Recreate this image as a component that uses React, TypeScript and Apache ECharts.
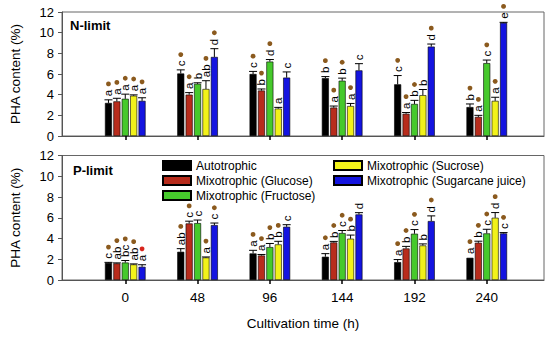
import React, { useEffect, useRef } from "react";
import * as echarts from "echarts";

const times = [0, 48, 96, 144, 192, 240];
const tickLabels = ["0", "48", "96", "144", "192", "240"];
const seriesNames = [
  "Autotrophic",
  "Mixotrophic (Glucose)",
  "Mixotrophic (Fructose)",
  "Mixotrophic (Sucrose)",
  "Mixotrophic (Sugarcane juice)",
];
const colors = ["#000000", "#b82c1c", "#46c92c", "#f2f21a", "#1414e0"];

// N-limit values
const nAuto = [3.2, 6.05, 6.0, 5.6, 5.0, 2.8];
const nGlucose = [3.35, 4.0, 4.4, 2.75, 2.15, 1.85];
const nFructose = [3.6, 5.05, 7.2, 5.35, 3.1, 7.05];
const nSucrose = [3.9, 4.55, 2.65, 2.9, 3.95, 3.4];
const nSugarcane = [3.4, 7.65, 5.65, 6.35, 8.65, 10.95];
const nAutoErr = [0.3, 0.35, 0.25, 0.15, 0.85, 0.3];
const nGlucoseErr = [0.3, 0.2, 0.15, 0.15, 0.12, 0.15];
const nFructoseErr = [0.45, 0.1, 0.2, 0.25, 0.35, 0.3];
const nSucroseErr = [0.08, 0.8, 0.12, 0.25, 0.55, 0.35];
const nSugarcaneErr = [0.3, 0.8, 0.55, 0.65, 0.25, 0.05];
const nAutoLet = ["a", "c", "c", "b", "c", "b"];
const nGlucoseLet = ["a", "a", "b", "a", "a", "a"];
const nFructoseLet = ["a", "b", "d", "b", "b", "c"];
const nSucroseLet = ["a", "ab", "a", "a", "b", "a"];
const nSugarcaneLet = ["a", "d", "c", "c", "d", "e"];
// 1 = brown dot, 2 = red dot, 0 = none
const nAutoDot = [1, 1, 1, 1, 1, 1];
const nGlucoseDot = [1, 1, 1, 1, 1, 1];
const nFructoseDot = [1, 0, 1, 1, 1, 1];
const nSucroseDot = [1, 1, 0, 1, 0, 1];
const nSugarcaneDot = [1, 1, 0, 0, 1, 1];

// P-limit values
const pAuto = [1.65, 2.72, 2.56, 2.24, 1.72, 2.14];
const pGlucose = [1.6, 5.45, 2.36, 3.62, 3.04, 3.59];
const pFructose = [1.68, 5.48, 3.17, 4.52, 4.46, 4.49];
const pSucrose = [1.5, 2.17, 3.43, 3.98, 3.33, 6.0];
const pSugarcane = [1.27, 5.29, 5.13, 6.32, 5.68, 4.49];
const pAutoErr = [0.05, 0.3, 0.3, 0.3, 0.25, 0.02];
const pGlucoseErr = [0.05, 0.22, 0.1, 0.1, 0.2, 0.15];
const pFructoseErr = [0.2, 0.3, 0.35, 0.25, 0.4, 0.4];
const pSucroseErr = [0.05, 0.05, 0.3, 0.35, 0.15, 0.5];
const pSugarcaneErr = [0.2, 0.2, 0.2, 0.17, 0.5, 0.08];
const pAutoLet = ["c", "ab", "a", "a", "a", "a"];
const pGlucoseLet = ["ab", "c", "a", "b", "b", "b"];
const pFructoseLet = ["bc", "c", "b", "c", "c", "c"];
const pSucroseLet = ["ab", "a", "b", "b", "b", "d"];
const pSugarcaneLet = ["a", "c", "c", "d", "d", "c"];
const pAutoDot = [1, 1, 1, 1, 1, 1];
const pGlucoseDot = [1, 1, 1, 1, 1, 1];
const pFructoseDot = [1, 0, 1, 1, 1, 1];
const pSucroseDot = [1, 1, 1, 1, 0, 1];
const pSugarcaneDot = [2, 1, 0, 0, 1, 1];

const FONT = '"Liberation Sans", Arial, sans-serif';
const BAR_W = 7;
const BAR_GAP = 0.2;
const PITCH = BAR_W * (1 + BAR_GAP);
const LETTER_SIZE = 11.5;

let measureCtx: CanvasRenderingContext2D | null = null;
function textWidth(s: string): number {
  if (!measureCtx) {
    measureCtx = document.createElement("canvas").getContext("2d");
  }
  if (!measureCtx) return s.length * 6.2;
  measureCtx.font = `${LETTER_SIZE}px ${FONT}`;
  return measureCtx.measureText(s).width;
}

function barSeries(g: number, k: number, vals: number[]) {
  return {
    type: "bar",
    name: seriesNames[k],
    xAxisIndex: g,
    yAxisIndex: g,
    barWidth: BAR_W,
    barGap: `${BAR_GAP * 100}%`,
    data: times.map((t, i) => [t, vals[i]]),
    itemStyle: { color: colors[k], borderColor: "#000", borderWidth: 0.6 },
  };
}

function annotSeries(
  g: number,
  k: number,
  vals: number[],
  errs: number[],
  letters: string[],
  dots: number[]
) {
  return {
    type: "custom",
    xAxisIndex: g,
    yAxisIndex: g,
    clip: false,
    silent: true,
    z: 5,
    data: times.map((t, i) => [t, vals[i], errs[i]]),
    renderItem: (params: any, api: any) => {
      const i = params.dataIndex;
      const x = api.value(0);
      const y = api.value(1);
      const e = api.value(2);
      const base = api.coord([x, y]);
      const top = api.coord([x, y + e]);
      const cx = base[0] + (k - 2) * PITCH;
      const children: any[] = [];
      if (e > 0.04) {
        children.push({
          type: "line",
          shape: { x1: cx, y1: base[1], x2: cx, y2: top[1] },
          style: { stroke: "#000", lineWidth: 1 },
        });
        children.push({
          type: "line",
          shape: { x1: cx - 4, y1: top[1], x2: cx + 4, y2: top[1] },
          style: { stroke: "#000", lineWidth: 1 },
        });
      }
      const tb = top[1] - 3.5;
      const label = letters[i];
      children.push({
        type: "text",
        x: cx,
        y: tb,
        rotation: Math.PI / 2,
        style: {
          text: label,
          align: "left",
          verticalAlign: "middle",
          fontSize: LETTER_SIZE,
          fontFamily: FONT,
          fill: "#000",
        },
      });
      const d = dots[i];
      if (d) {
        children.push({
          type: "circle",
          shape: { cx: cx, cy: tb - textWidth(label) - 6, r: 2.4 },
          style: { fill: d === 2 ? "#d8241c" : "#8b5a1e" },
        });
      }
      return { type: "group", children };
    },
  };
}

export default function App() {
  const ref = useRef<HTMLDivElement>(null);
  useEffect(() => {
    if (!ref.current) return;
    const chart = echarts.init(ref.current, null, { renderer: "svg" });

    const grids = [
      { left: 62, right: 6, top: 12, height: 124 },
      { left: 62, right: 6, top: 155.5, height: 124.5 },
    ].map((g) => ({
      ...g,
      show: true,
      borderColor: "#666",
      borderWidth: 1,
      backgroundColor: "transparent",
    }));

    const xAxes = [0, 1].map((g) => ({
      type: "value",
      gridIndex: g,
      min: -42,
      max: 278,
      axisLine: { show: true, onZero: false, lineStyle: { color: "#555", width: 1 } },
      axisTick: {
        show: true,
        customValues: times,
        length: 4,
        lineStyle: { color: "#000", width: 1.5 },
      },
      axisLabel: {
        show: g === 1,
        customValues: times,
        formatter: (v: number) => tickLabels[times.indexOf(v)] ?? String(v),
        fontSize: 13.5,
        fontFamily: FONT,
        color: "#000",
        margin: 10,
      },
      splitLine: { show: false },
      name: g === 1 ? "Cultivation time (h)" : "",
      nameLocation: "middle",
      nameGap: 36,
      nameTextStyle: { fontSize: 13.5, fontFamily: FONT, color: "#000" },
    }));

    const yAxes = [0, 1].map((g) => ({
      type: "value",
      gridIndex: g,
      min: 0,
      max: 12,
      interval: 2,
      axisLine: { show: true, onZero: false, lineStyle: { color: "#555", width: 1 } },
      axisTick: { show: true, length: 4, lineStyle: { color: "#555" } },
      axisLabel: { fontSize: 13, fontFamily: FONT, color: "#000", margin: 8 },
      splitLine: { show: false },
      name: "PHA content (%)",
      nameLocation: "middle",
      nameGap: 40,
      nameTextStyle: { fontSize: 13.5, fontFamily: FONT, color: "#000" },
    }));

    const nVals = [nAuto, nGlucose, nFructose, nSucrose, nSugarcane];
    const nErrs = [nAutoErr, nGlucoseErr, nFructoseErr, nSucroseErr, nSugarcaneErr];
    const nLets = [nAutoLet, nGlucoseLet, nFructoseLet, nSucroseLet, nSugarcaneLet];
    const nDots = [nAutoDot, nGlucoseDot, nFructoseDot, nSucroseDot, nSugarcaneDot];
    const pVals = [pAuto, pGlucose, pFructose, pSucrose, pSugarcane];
    const pErrs = [pAutoErr, pGlucoseErr, pFructoseErr, pSucroseErr, pSugarcaneErr];
    const pLets = [pAutoLet, pGlucoseLet, pFructoseLet, pSucroseLet, pSugarcaneLet];
    const pDots = [pAutoDot, pGlucoseDot, pFructoseDot, pSucroseDot, pSugarcaneDot];

    const series: any[] = [];
    for (let k = 0; k < 5; k++) series.push(barSeries(0, k, nVals[k]));
    for (let k = 0; k < 5; k++) series.push(barSeries(1, k, pVals[k]));
    for (let k = 0; k < 5; k++)
      series.push(annotSeries(0, k, nVals[k], nErrs[k], nLets[k], nDots[k]));
    for (let k = 0; k < 5; k++)
      series.push(annotSeries(1, k, pVals[k], pErrs[k], pLets[k], pDots[k]));

    const legendBase = {
      orient: "vertical",
      top: 159,
      padding: 0,
      itemWidth: 28,
      itemHeight: 9,
      itemGap: 2,
      icon: "rect",
      selectedMode: false,
      textStyle: { fontSize: 12, lineHeight: 13, fontFamily: FONT, color: "#000" },
    };

    chart.setOption({
      animation: false,
      backgroundColor: "#fff",
      grid: grids,
      xAxis: xAxes,
      yAxis: yAxes,
      legend: [
        { ...legendBase, left: 162, data: seriesNames.slice(0, 3) },
        { ...legendBase, left: 333, data: seriesNames.slice(3) },
      ],
      graphic: [
        {
          type: "text",
          left: 70,
          top: 19,
          style: { text: "N-limit", fontSize: 13, fontWeight: "bold", fontFamily: FONT, fill: "#000" },
        },
        {
          type: "text",
          left: 73,
          top: 163.5,
          style: { text: "P-limit", fontSize: 13, fontWeight: "bold", fontFamily: FONT, fill: "#000" },
        },
      ],
      series,
    });
    return () => chart.dispose();
  }, []);
  return (
    <div
      ref={ref}
      style={{ position: "fixed", left: 0, top: 0, width: 550, height: 337 }}
    />
  );
}
